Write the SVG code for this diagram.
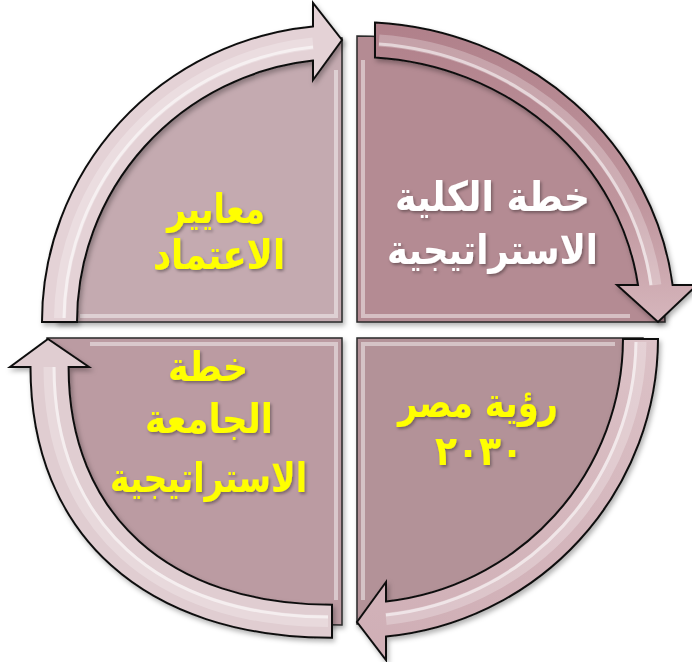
<svg xmlns="http://www.w3.org/2000/svg" width="692" height="662" viewBox="0 0 692 662">
<defs>
<style>
.q{stroke:#2a2a2a;stroke-width:1.5}
.bev{fill:none;stroke:#fff;stroke-opacity:.45;stroke-width:4}
.arw{stroke:#111;stroke-width:2;stroke-linejoin:miter}
.hl{fill:none;stroke:#fff;stroke-opacity:.55;stroke-width:3}
.hl2{fill:none;stroke:#fff;stroke-opacity:.25;stroke-width:12}
.t{font-family:"DejaVu Sans",sans-serif;font-weight:bold;font-size:41px;text-anchor:middle}
.y{fill:#ffff00}
.w{fill:#ffffff}
</style>
<linearGradient id="gtr" x1="0" y1="20" x2="0" y2="322" gradientUnits="userSpaceOnUse">
<stop offset="0" stop-color="#b0808a"/>
<stop offset="0.6" stop-color="#bf959d"/>
<stop offset="1" stop-color="#d6b6bc"/>
</linearGradient>
<linearGradient id="gbr" x1="0" y1="338" x2="0" y2="660" gradientUnits="userSpaceOnUse">
<stop offset="0" stop-color="#dcc2c7"/>
<stop offset="1" stop-color="#cfaeb5"/>
</linearGradient>
<filter id="sh" x="-10%" y="-10%" width="120%" height="120%">
<feDropShadow dx="2" dy="3" stdDeviation="2.5" flood-color="#000" flood-opacity="0.3"/>
</filter>
<filter id="tsh" x="-10%" y="-10%" width="120%" height="130%">
<feDropShadow dx="1.5" dy="2" stdDeviation="1.5" flood-color="#000" flood-opacity="0.35"/>
</filter>
</defs>
<rect width="692" height="662" fill="#fff"/>

<g id="q-tl" filter="url(#sh)">
<path class="q" fill="#c4aab0" d="M342,322 L56,322 A286 284 0 0 1 342,38 Z"/>
<path class="bev" d="M336,70 L336,316 L80,316"/>
<text class="t y" filter="url(#tsh)" x="216" y="223" textLength="98" lengthAdjust="spacingAndGlyphs">معايير</text>
<text class="t y" filter="url(#tsh)" x="219" y="269" textLength="132" lengthAdjust="spacingAndGlyphs">الاعتماد</text>
</g>
<g id="q-tr" filter="url(#sh)">
<path class="q" fill="#b48b93" d="M357,322 L357,36 A308 286 0 0 1 665,322 Z"/>
<path class="bev" d="M363,60 L363,316 L630,316"/>
<text class="t w" filter="url(#tsh)" x="492.5" y="211" textLength="195" lengthAdjust="spacingAndGlyphs">خطة الكلية</text>
<text class="t w" filter="url(#tsh)" x="492.5" y="264" textLength="211" lengthAdjust="spacingAndGlyphs">الاستراتيجية</text>
</g>
<g id="q-br" filter="url(#sh)">
<path class="q" fill="#b39298" d="M357,338 L643,338 A286 286 0 0 1 357,624 Z"/>
<path class="bev" d="M363,600 L363,344 L615,344"/>
<text class="t y" filter="url(#tsh)" x="478" y="417" textLength="160" lengthAdjust="spacingAndGlyphs">رؤية مصر</text>
<text class="t y" filter="url(#tsh)" x="479" y="465" textLength="88" lengthAdjust="spacingAndGlyphs">٢٠٣٠</text>
</g>
<g id="q-bl" filter="url(#sh)">
<path class="q" fill="#bb9ba2" d="M342,338 L342,625 C159,625 47,516 47,338 Z"/>
<path class="bev" d="M336,600 L336,344 L90,344"/>
<text class="t y" filter="url(#tsh)" x="208" y="381" textLength="80" lengthAdjust="spacingAndGlyphs">خطة</text>
<text class="t y" filter="url(#tsh)" x="209" y="433" textLength="128" lengthAdjust="spacingAndGlyphs">الجامعة</text>
<text class="t y" filter="url(#tsh)" x="208.5" y="492" textLength="197" lengthAdjust="spacingAndGlyphs">الاستراتيجية</text>
</g>

<g id="connectors" filter="url(#sh)">
<g id="arrow-tl">
<path class="arw" fill="#e4d2d6" d="M42,322 A300 297 0 0 1 313,26.4 L313,3 L342,40 L313,80 L313,60.6 A265 263 0 0 0 77,322 Z"/>
<path class="hl2" d="M60,318 A282 280 0 0 1 313,43.5"/>
<path class="hl" d="M64,318 A278 276 0 0 1 313,47"/>
</g>
<g id="arrow-tr">
<path class="arw" fill="url(#gtr)" d="M375,22.5 A318 300 0 0 1 672.6,285 L697,285 L658,322 L617,285 L638,285 A284 265 0 0 0 375,57.5 Z"/>
<path class="hl2" d="M379,40.5 A301 282 0 0 1 655.4,285"/>
<path class="hl" d="M379,44 A297 278 0 0 1 651,285"/>
</g>
<g id="arrow-br">
<path class="arw" fill="url(#gbr)" d="M658,339 A301 300 0 0 1 386,636.6 L386,660 L357,622 L386,582 L386,601.4 A266 265 0 0 0 623,339 Z"/>
<path class="hl2" d="M640.5,342 A283.5 282.5 0 0 1 386,619"/>
<path class="hl" d="M636,342 A279 278 0 0 1 386,615"/>
</g>
<g id="arrow-bl">
<path class="arw" fill="#e0cdd1" d="M332,637.8 C145.1,637.8 30.5,534.9 30.5,367 L10,367 L48,339 L89,367 L68.6,367 C68.6,514.4 168.7,604.8 332,604.8 Z"/>
<path class="hl2" d="M328,621 C155.3,621 49.5,524.5 49.5,367"/>
<path class="hl" d="M328,617 C158.1,617 54,522 54,367"/>
</g>
</g>
</svg>
